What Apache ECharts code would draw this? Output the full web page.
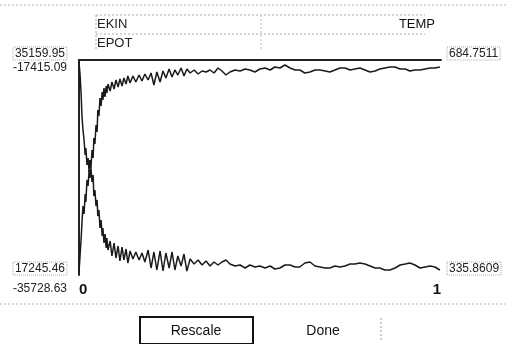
<!DOCTYPE html>
<html>
<head>
<meta charset="utf-8">
<style>
  html, body { margin: 0; padding: 0; background: #fff; }
  #chart { width: 508px; height: 344px; }
</style>
<script src="https://cdn.jsdelivr.net/npm/echarts@6/dist/echarts.min.js"></script>
</head>
<body>
<div id="chart"></div>
<script>
// time as fraction of run (0..1)
var steps = [0, 0.003, 0.006, 0.008, 0.011, 0.014, 0.017, 0.019, 0.022, 0.025, 0.028, 0.030, 0.033, 0.036, 0.039, 0.041,
  0.044, 0.047, 0.050, 0.052, 0.055, 0.058, 0.061, 0.064, 0.066, 0.069, 0.072, 0.075, 0.077, 0.080,
  0.086, 0.091, 0.097, 0.102, 0.108, 0.113, 0.119, 0.124, 0.130, 0.135, 0.141,
  0.149, 0.157, 0.166, 0.174, 0.182, 0.191, 0.199, 0.207, 0.215, 0.224, 0.232, 0.240, 0.249, 0.257, 0.265, 0.273, 0.282, 0.290, 0.298, 0.307,
  0.318, 0.329, 0.340, 0.351, 0.362, 0.373, 0.384, 0.395, 0.406,
  0.417, 0.431, 0.445, 0.459, 0.472, 0.486, 0.500, 0.514, 0.528, 0.541, 0.555, 0.569, 0.583, 0.597, 0.610, 0.624, 0.638, 0.652,
  0.666, 0.680, 0.693, 0.707, 0.721, 0.735, 0.749, 0.762, 0.776, 0.790, 0.804, 0.818, 0.831, 0.845, 0.859, 0.873, 0.887, 0.901,
  0.914, 0.928, 0.942, 0.956, 0.970, 0.983, 0.997]

var ekin = [34993, 33910, 32244, 30577, 29328, 28494, 27245, 27828, 26411, 26995, 25828, 26828, 26161, 27661, 26995, 28661,
  28161, 29744, 29161, 30994, 30494, 31994, 31327, 32494, 31827, 32827, 32077, 32994, 32410, 33160,
  32577, 33327, 32744, 33494, 32910, 33577, 32994, 33660, 33160, 33827, 33244,
  33827, 33327, 33910, 33410, 33994, 33494, 34077, 33077, 34160, 33327, 34243, 33660, 34410, 33744, 34327, 33910, 34493, 33827, 34410, 34077,
  34327, 33994, 34243, 34160, 34327, 34077, 34493, 34243, 33910,
  34160, 34327, 34243, 34410, 34327, 34160, 34410, 34493, 34327, 34577, 34493, 34743, 34493, 34327, 34327, 34077, 34160, 34327,
  34327, 34243, 34160, 34327, 34493, 34493, 34327, 34410, 34493, 34327, 34160, 34243, 34410, 34493, 34577, 34577, 34410, 34410,
  34243, 34327, 34327, 34410, 34493, 34493, 34577]

var epot = [-35473, -34025, -32577, -31385, -29851, -30533, -28829, -29511, -27637, -28148, -26785, -27466, -26614, -27807, -27211, -28999,
  -28488, -29851, -29340, -30703, -30192, -31725, -31044, -32407, -31725, -33003, -32236, -33428, -32577, -33599,
  -32833, -34110, -33003, -34281, -33258, -34536, -33343, -34451, -33513, -34707, -33684,
  -34366, -33770, -34451, -33855, -34621, -33599, -35132, -33770, -35303, -33684, -35388, -33855, -35132, -33770, -35303, -34110, -34962, -33940, -35388, -34366,
  -34792, -34451, -34877, -34536, -34962, -34621, -34877, -34621, -34451,
  -34792, -34962, -34877, -35132, -34877, -35047, -34962, -35132, -34962, -35218, -35132, -34877, -34877, -35047, -35047, -34707, -34621, -34962,
  -35047, -35132, -35132, -34962, -35047, -34962, -34792, -34792, -34707, -34792, -34962, -35132, -35132, -35303, -35303, -35132, -34877, -34792,
  -34707, -34877, -35132, -35047, -34962, -35047, -35303]

var ekinRange = [17245.46, 35159.95]
var epotRange = [-35728.63, -17415.09]
var tempRange = [335.8609, 684.7511]
var xRange = [0, 1]

var font = "'Liberation Sans', Arial, sans-serif"

function pairs(xs, ys) {
  return ys.map(function (v, i) { return [xs[i], v] })
}

function rangeAxis(range, digits, pos, align) {
  return {
    type: 'value',
    position: pos,
    min: range[0],
    max: range[1],
    splitLine: { show: false },
    axisTick: { show: false },
    axisLine: { show: false },
    axisLabel: {
      customValues: range,
      formatter: function (v) { return v.toFixed(digits) },
      verticalAlign: align,
      margin: pos === 'left' ? 12 : 6,
      color: '#222',
      fontSize: 12,
      fontFamily: font,
      borderColor: '#aaa',
      borderWidth: 1,
      borderType: 'dotted',
      padding: [1, 2, 0, 2]
    }
  }
}

var chart = echarts.init(document.getElementById('chart'), null, { renderer: 'canvas' })

var ekinAxis = rangeAxis(ekinRange, 2, 'left', 'bottom')
ekinAxis.axisLine = { show: true, lineStyle: { color: '#222', width: 2 } }

// EPOT labels sit below the ticks, the bottom one a bit lower
var epotAxis = rangeAxis(epotRange, 2, 'left', 'top')
epotAxis.axisLabel.borderWidth = 0
epotAxis.axisLabel.padding = 0
epotAxis.axisLabel.formatter = function (v) {
  return v === epotRange[0] ? '{lo|' + v.toFixed(2) + '}' : '{hi|' + v.toFixed(2) + '}'
}
epotAxis.axisLabel.rich = {
  lo: { fontSize: 12, fontFamily: font, color: '#222', lineHeight: 28 },
  hi: { fontSize: 12, fontFamily: font, color: '#222', lineHeight: 16 }
}

chart.setOption({
  animation: false,
  backgroundColor: '#fff',
  grid: { left: 79, right: 67, top: 60, bottom: 69 },
  legend: [
    {
      data: ['EKIN', 'EPOT'],
      orient: 'vertical',
      left: 87,
      top: 12,
      icon: 'none',
      itemWidth: 0,
      itemGap: 6,
      selectedMode: false,
      textStyle: { color: '#222', fontSize: 13, fontFamily: font }
    },
    {
      data: ['TEMP'],
      right: 68,
      top: 12,
      icon: 'none',
      itemWidth: 0,
      selectedMode: false,
      textStyle: { color: '#111', fontSize: 13, fontFamily: font }
    }
  ],
  xAxis: [
    {
      type: 'value',
      min: xRange[0],
      max: xRange[1],
      splitLine: { show: false },
      axisTick: { show: false },
      axisLine: { show: false },
      axisLabel: {
        customValues: xRange,
        alignMinLabel: 'left',
        alignMaxLabel: 'right',
        margin: 7,
        color: '#111',
        fontSize: 15,
        fontWeight: 'bold',
        fontFamily: font
      }
    },
    {
      type: 'value',
      position: 'top',
      min: xRange[0],
      max: xRange[1],
      splitLine: { show: false },
      axisTick: { show: false },
      axisLabel: { show: false },
      axisLine: { show: true, lineStyle: { color: '#222', width: 2 } }
    }
  ],
  yAxis: [
    ekinAxis,
    epotAxis,
    rangeAxis(tempRange, 4, 'right', 'bottom')
  ],
  series: [
    {
      name: 'EKIN',
      type: 'line',
      yAxisIndex: 0,
      data: pairs(steps, ekin),
      symbol: 'none',
      lineStyle: { color: '#1a1a1a', width: 1.5 },
      itemStyle: { color: '#1a1a1a' }
    },
    {
      name: 'EPOT',
      type: 'line',
      yAxisIndex: 1,
      data: pairs(steps, epot),
      symbol: 'none',
      lineStyle: { color: '#1a1a1a', width: 1.5 },
      itemStyle: { color: '#1a1a1a' }
    },
    {
      // TEMP follows EKIN exactly, only its scale is shown
      name: 'TEMP',
      type: 'line',
      yAxisIndex: 2,
      data: [],
      symbol: 'none',
      lineStyle: { color: '#1a1a1a', width: 1.5 },
      itemStyle: { color: '#1a1a1a' }
    }
  ],
  graphic: [
    { type: 'line', shape: { x1: 0, y1: 5, x2: 508, y2: 5 }, style: { stroke: '#bbb', lineDash: [2, 2] } },
    { type: 'line', shape: { x1: 96, y1: 15, x2: 425, y2: 15 }, style: { stroke: '#aaa', lineDash: [2, 2] } },
    { type: 'line', shape: { x1: 96, y1: 34, x2: 425, y2: 34 }, style: { stroke: '#aaa', lineDash: [2, 2] } },
    { type: 'line', shape: { x1: 96, y1: 15, x2: 96, y2: 50 }, style: { stroke: '#aaa', lineDash: [2, 2] } },
    { type: 'line', shape: { x1: 261, y1: 15, x2: 261, y2: 50 }, style: { stroke: '#bbb', lineDash: [2, 2] } },
    { type: 'line', shape: { x1: 0, y1: 304, x2: 508, y2: 304 }, style: { stroke: '#bbb', lineDash: [2, 2] } },
    { type: 'rect', shape: { x: 140, y: 317, width: 113, height: 27 }, style: { fill: '#fff', stroke: '#111', lineWidth: 2 } },
    {
      type: 'text', x: 196, y: 331,
      style: { text: 'Rescale', fill: '#111', font: '14px ' + font, align: 'center', verticalAlign: 'middle' }
    },
    {
      type: 'text', x: 323, y: 331,
      style: { text: 'Done', fill: '#111', font: '14px ' + font, align: 'center', verticalAlign: 'middle' }
    },
    { type: 'line', shape: { x1: 381, y1: 318, x2: 381, y2: 340 }, style: { stroke: '#999', lineDash: [2, 2] } }
  ]
})
</script>
</body>
</html>
